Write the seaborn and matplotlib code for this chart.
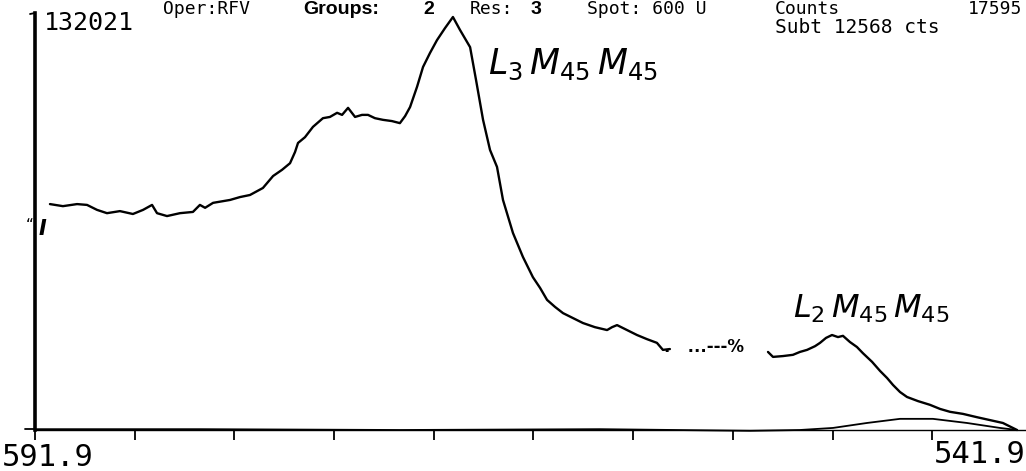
import numpy as np
import pandas as pd
import matplotlib
matplotlib.use("Agg")
import matplotlib.pyplot as plt
from matplotlib.lines import Line2D
import seaborn as sns

# Full scale of the spectrum (counts)
FULL_SCALE = 132021

# L3M45M45 region: kinetic energy (eV) and intensity (% of full scale)
l3_energy = [591.15, 590.50, 589.79, 589.29, 588.79, 588.29, 587.64, 586.99, 586.48, 586.03,
             585.78, 585.28, 584.63, 583.98, 583.63, 583.37, 582.97, 582.12, 581.62, 581.12,
             580.47, 579.96, 579.51, 579.11, 578.86, 578.71, 578.36, 577.96, 577.46, 577.11,
             576.75, 576.50, 576.20, 575.85, 575.50, 575.20, 574.85, 574.45, 574.00, 573.60,
             573.34, 573.09, 572.74, 572.44, 572.09, 571.74, 571.34, 570.94, 570.59, 570.08,
             569.78, 569.43, 569.08, 568.73, 568.43, 567.93, 567.43, 566.93, 566.57, 566.22,
             565.82, 565.42, 564.92, 564.42, 563.82, 563.21, 562.96, 562.71, 562.21, 561.71,
             561.21, 560.71, 560.41, 560.06]
l3_pct = [54.7, 54.2, 54.7, 54.5, 53.3, 52.5, 53.0, 52.3, 53.3, 54.5,
          52.5, 51.8, 52.5, 52.8, 54.5, 53.8, 55.0, 55.7, 56.4, 56.9,
          58.6, 61.5, 63.0, 64.6, 67.3, 69.5, 70.9, 73.4, 75.5, 75.8,
          76.8, 76.3, 78.0, 75.8, 76.3, 76.3, 75.5, 75.1, 74.8, 74.3,
          76.0, 78.2, 83.1, 87.9, 91.3, 94.4, 97.3, 100.0, 96.9, 92.7,
          84.7, 75.1, 67.8, 63.7, 55.7, 47.7, 41.9, 37.0, 34.4, 31.5,
          29.8, 28.3, 27.1, 25.9, 24.9, 24.2, 24.9, 25.4, 24.2, 23.0,
          22.0, 21.1, 19.4, 19.6]

# L2M45M45 region
l2_energy = [555.14, 554.89, 554.39, 553.89, 553.54, 553.18, 552.78, 552.53, 552.23, 551.93,
             551.63, 551.38, 551.03, 550.68, 550.38, 549.92, 549.52, 549.17, 548.87, 548.52,
             548.17, 547.62, 547.02, 546.51, 546.01, 545.36, 544.66, 544.01, 543.36, 542.65]
l2_pct = [18.9, 17.7, 17.9, 18.2, 18.9, 19.4, 20.3, 21.1, 22.3, 23.0,
          22.5, 22.8, 21.3, 20.1, 18.6, 16.5, 14.3, 12.6, 10.9, 9.2,
          8.0, 7.0, 6.1, 5.1, 4.4, 3.9, 3.1, 2.4, 1.7, 0.0]

# background trace near zero
bg_energy = [591.90, 583.63, 573.60, 563.57, 556.04, 553.54, 551.88, 550.18, 548.52,
             546.87, 545.16, 543.51, 542.65]
bg_pct = [0.2, 0.2, 0.0, 0.2, -0.2, 0.0, 0.5, 1.7, 2.7, 2.7, 1.7, 0.5, 0.0]

tick_energy = [591.9 - 5 * i for i in range(11)]

W, H = 1026, 471
sns.set_theme(style="white")
plt.rcParams['font.family'] = ['DejaVu Sans Mono', 'DejaVu Sans']

fig = plt.figure(figsize=(W / 100, H / 100), dpi=100)
fig.patch.set_facecolor('white')
ax = fig.add_axes([35 / W, 41 / H, 997 / W, 417 / H])
ax.set_facecolor('white')

def to_counts(p):
    return [v / 100 * FULL_SCALE for v in p]

df_l3 = pd.DataFrame({'E': l3_energy, 'c': to_counts(l3_pct)})
df_l2 = pd.DataFrame({'E': l2_energy, 'c': to_counts(l2_pct)})
df_bg = pd.DataFrame({'E': bg_energy, 'c': to_counts(bg_pct)})

for d, lw in [(df_l3, 1.7), (df_l2, 1.7), (df_bg, 1.3)]:
    sns.lineplot(data=d, x='E', y='c', ax=ax, color='black', lw=lw,
                 estimator=None, sort=False, clip_on=False)

ax.set_xlim(591.9, 541.9)
ax.set_ylim(0, FULL_SCALE * 417 / 413)
ax.set_xticks(tick_energy)
ax.set_xticklabels([])
ax.set_yticks([])
ax.set_xlabel('')
ax.set_ylabel('')
ax.tick_params(axis='x', direction='out', length=7, width=1.3, color='black', bottom=True)
for s in ['top', 'right']:
    ax.spines[s].set_visible(False)
ax.spines['left'].set_linewidth(2.6)
ax.spines['left'].set_color('black')
ax.spines['bottom'].set_linewidth(1.0)
ax.spines['bottom'].set_color('black')

# small hooks at the ends of the vertical axis
fig.add_artist(Line2D([30 / W, 35 / W], [1 - 14 / H, 1 - 13 / H], color='black', lw=1.3))
fig.add_artist(Line2D([25 / W, 35 / W], [1 - 429 / H, 1 - 429 / H], color='black', lw=1.3))

def ftext(x, y, s, **kw):
    fig.text(x / W, 1 - y / H, s, va='baseline', ha='left', color='black', **kw)

mono = ['DejaVu Sans Mono']
bold = ['Liberation Sans', 'DejaVu Sans']

# header line
ftext(163, 14, 'Oper:RFV', fontsize=13, family=mono)
ftext(303, 14, 'Groups:', fontsize=14, family=bold, fontweight='bold')
ftext(423, 14, '2', fontsize=14, family=bold, fontweight='bold')
ftext(470, 14, 'Res:', fontsize=13, family=mono)
ftext(531, 14, '3', fontsize=14, family=bold, fontweight='bold')
ftext(587, 14, 'Spot: 600 U', fontsize=13, family=mono)
ftext(775, 14, 'Counts', fontsize=13, family=mono)
ftext(968, 14, '17595', fontsize=13, family=mono)
ftext(775, 33, 'Subt 12568 cts', fontsize=14, family=mono)
ftext(44, 30, '132021', fontsize=18, family=mono)

# axis end labels
ftext(2, 466, '591.9', fontsize=22, family=mono)
ftext(934, 463, '541.9', fontsize=22, family=mono)

# small marks
ftext(26, 230, '\u201c', fontsize=11, family=['DejaVu Sans'])
ftext(39, 235, 'I', fontsize=15, family=['DejaVu Sans'], fontweight='bold', style='italic')
ftext(664, 352, '.   ...---%', fontsize=12, family=['DejaVu Sans'], fontweight='bold')

# peak annotations
ftext(488, 74, r'$L_3\,M_{45}\,M_{45}$', fontsize=25)
ftext(793, 318, r'$L_2\,M_{45}\,M_{45}$', fontsize=23)

fig.savefig('out.png', dpi=100, facecolor='white')
